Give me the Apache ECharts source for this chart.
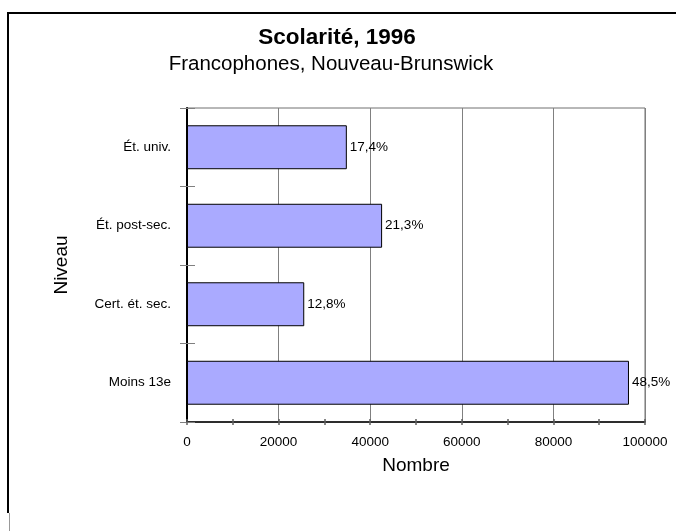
<!DOCTYPE html>
<html>
<head>
<meta charset="utf-8">
<script src="https://cdn.jsdelivr.net/npm/echarts@6/dist/echarts.min.js"></script>
<style>
html,body{margin:0;padding:0;background:#fff;}
#chart{width:676px;height:531px;}
</style>
</head>
<body>
<div id="chart"></div>
<script>
// Data
const categories = ['Moins 13e', 'Cert. ét. sec.', 'Ét. post-sec.', 'Ét. univ.'];
const counts = [96500, 25600, 42600, 34900];
const percentLabels = ['48,5%', '12,8%', '21,3%', '17,4%'];
const xTickValues = [0, 20000, 40000, 60000, 80000, 100000];
const titleText = 'Scolarité, 1996';
const subtitleText = 'Francophones, Nouveau-Brunswick';
const xName = 'Nombre';
const yName = 'Niveau';

const FONT = '"Liberation Sans", Arial, sans-serif';
const chart = echarts.init(document.getElementById('chart'), null, {renderer: 'canvas'});

const option = {
  animation: false,
  backgroundColor: '#ffffff',
  textStyle: {fontFamily: FONT},
  title: [
    {text: titleText, left: 337, top: 26, textAlign: 'center', padding: 0,
     textStyle: {fontFamily: FONT, fontSize: 22.5, fontWeight: 'bold', color: '#000'}},
    {text: subtitleText, left: 331, top: 54, textAlign: 'center', padding: 0,
     textStyle: {fontFamily: FONT, fontSize: 20.5, fontWeight: 'normal', color: '#000'}}
  ],
  grid: {
    left: 187, right: 31, top: 108, bottom: 109,
    containLabel: false, outerBoundsMode: 'none',
    show: true, borderColor: '#707070', borderWidth: 1, backgroundColor: 'transparent'
  },
  xAxis: [
    {
      type: 'value', position: 'bottom', min: xTickValues[0], max: xTickValues[xTickValues.length - 1],
      interval: xTickValues[1] - xTickValues[0],
      name: xName, nameLocation: 'middle', nameGap: 34,
      nameTextStyle: {fontFamily: FONT, fontSize: 19, color: '#000'},
      axisLine: {show: true, lineStyle: {color: '#000', width: 1.5}},
      axisTick: {show: true, inside: false, length: 3, lineStyle: {color: '#606060', width: 1.5}},
      minorTick: {show: true, splitNumber: 2, length: 3, lineStyle: {color: '#606060', width: 1.5}},
      axisLabel: {show: true, margin: 13, fontFamily: FONT, fontSize: 13.5, color: '#000',
                  showMinLabel: true, showMaxLabel: true, hideOverlap: false,
                  formatter: (v) => String(v)},
      splitLine: {show: true, lineStyle: {color: '#808080', width: 1}}
    },
    {
      type: 'value', position: 'bottom', min: xTickValues[0], max: xTickValues[xTickValues.length - 1],
      interval: (xTickValues[1] - xTickValues[0]) / 2,
      axisLine: {show: false},
      axisTick: {show: true, inside: true, length: 3, lineStyle: {color: '#606060', width: 1.5}},
      axisLabel: {show: false},
      splitLine: {show: false}
    }
  ],
  yAxis: [
    {
      type: 'category', position: 'left', data: categories,
      name: yName, nameLocation: 'middle', nameGap: 116, nameRotate: 90,
      nameTextStyle: {fontFamily: FONT, fontSize: 19, color: '#000'},
      axisLine: {show: true, lineStyle: {color: '#000', width: 2}},
      axisTick: {show: true, inside: false, length: 7, alignWithLabel: false, lineStyle: {color: '#808080', width: 1}},
      axisLabel: {show: true, margin: 16, fontFamily: FONT, fontSize: 13.5, color: '#000'},
      splitLine: {show: false}
    },
    {
      type: 'category', position: 'left', data: categories,
      axisLine: {show: false},
      axisTick: {show: true, inside: true, length: 8, alignWithLabel: false, lineStyle: {color: '#808080', width: 1}},
      axisLabel: {show: false},
      splitLine: {show: false}
    }
  ],
  series: [{
    type: 'bar', xAxisIndex: 0, yAxisIndex: 0,
    data: counts,
    barCategoryGap: '44%',
    itemStyle: {color: '#aaaaff', borderColor: '#000', borderWidth: 1},
    label: {
      show: true, position: 'right', distance: 3,
      fontFamily: FONT, fontSize: 13.5, color: '#000',
      formatter: (p) => percentLabels[p.dataIndex]
    },
    z: 3
  }],
  graphic: [
    {type: 'line', shape: {x1: 8, y1: 13, x2: 676, y2: 13}, style: {stroke: '#000', lineWidth: 2}},
    {type: 'line', shape: {x1: 8, y1: 12, x2: 8, y2: 513}, style: {stroke: '#000', lineWidth: 2}},
    {type: 'line', shape: {x1: 9.5, y1: 513, x2: 9.5, y2: 531}, style: {stroke: '#999', lineWidth: 1}}
  ]
};
chart.setOption(option);
</script>
</body>
</html>
